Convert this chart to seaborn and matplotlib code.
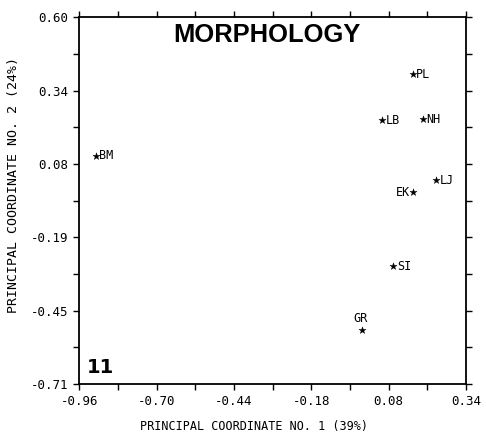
import numpy as np
import pandas as pd
import matplotlib
matplotlib.use("Agg")
import matplotlib.pyplot as plt
import seaborn as sns
from matplotlib.ticker import FixedLocator, FixedFormatter, AutoMinorLocator

sites = ["BM", "PL", "LB", "NH", "LJ", "EK", "SI", "GR"]
coord1 = [-0.905, 0.160, 0.058, 0.195, 0.240, 0.163, 0.096, -0.010]
coord2 = [0.106, 0.397, 0.233, 0.236, 0.018, -0.024, -0.289, -0.518]
label_side = ["right", "right", "right", "right", "right", "left", "right", "above"]

x_tick_labels = ["-0.96", "-0.70", "-0.44", "-0.18", "0.08", "0.34"]
y_tick_labels = ["-0.71", "-0.45", "-0.19", "0.08", "0.34", "0.60"]
x_min, x_max = -0.96, 0.34
y_min, y_max = -0.71, 0.60

sns.set_style("white")
mono = ["DejaVu Sans Mono"]
plt.rcParams["font.family"] = mono
for k in ["text.color", "axes.labelcolor", "xtick.color", "ytick.color", "axes.edgecolor"]:
    plt.rcParams[k] = "black"

df = pd.DataFrame({"site": sites, "pc1": coord1, "pc2": coord2, "side": label_side})

fig = plt.figure(figsize=(4.86, 4.34), dpi=100)
ax = fig.add_axes([0.163, 0.115, 0.796, 0.845])

sns.scatterplot(data=df, x="pc1", y="pc2", marker="*", s=28, color="black",
                edgecolor="black", linewidth=0.3, ax=ax, legend=False)

for _, r in df.iterrows():
    if r["side"] == "right":
        off, ha, va = (2.5, 0), "left", "center"
    elif r["side"] == "left":
        off, ha, va = (-2.5, 0), "right", "center"
    else:
        off, ha, va = (-1, 4), "center", "bottom"
    ax.annotate(r["site"], (r["pc1"], r["pc2"]), xytext=off, textcoords="offset points",
                ha=ha, va=va, fontsize=8.5, family=mono, color="black")

ax.set_xlim(x_min, x_max)
ax.set_ylim(y_min, y_max)
ax.xaxis.set_major_locator(FixedLocator(np.linspace(x_min, x_max, len(x_tick_labels))))
ax.xaxis.set_major_formatter(FixedFormatter(x_tick_labels))
ax.yaxis.set_major_locator(FixedLocator(np.linspace(y_min, y_max, len(y_tick_labels))))
ax.yaxis.set_major_formatter(FixedFormatter(y_tick_labels))
ax.xaxis.set_minor_locator(AutoMinorLocator(2))
ax.yaxis.set_minor_locator(AutoMinorLocator(2))
ax.tick_params(which="both", direction="out", length=4, width=1.0, color="black",
               top=True, right=True, bottom=True, left=True, labelsize=9, pad=4)
for sp in ax.spines.values():
    sp.set_visible(True)
    sp.set_color("black")
    sp.set_linewidth(1.3)

ax.set_xlabel("PRINCIPAL COORDINATE NO. 1 (39%)", fontsize=8.5, va="center")
ax.xaxis.set_label_coords(0.452, -0.117)
ax.set_ylabel("PRINCIPAL COORDINATE NO. 2 (24%)", fontsize=9.5, va="center")
ax.yaxis.set_label_coords(-0.169, 0.542)

ax.text(0.485, 0.952, "MORPHOLOGY", transform=ax.transAxes, ha="center", va="center",
        fontsize=18.4, fontweight="bold", family=["Liberation Sans", "DejaVu Sans"])
ax.text(0.02, 0.044, "11", transform=ax.transAxes, ha="left", va="center",
        fontsize=14, fontweight="bold", family=["DejaVu Sans"])

fig.savefig("out.png", dpi=100)
